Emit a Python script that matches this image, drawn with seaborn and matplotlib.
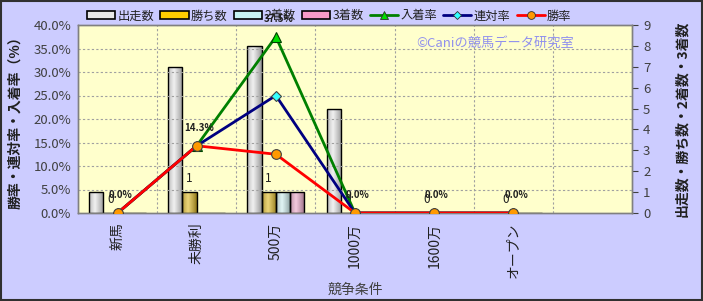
import numpy as np
import pandas as pd
import matplotlib
matplotlib.use("Agg")
import matplotlib.pyplot as plt
import matplotlib.colors as mcolors
from matplotlib.patches import Rectangle, Patch
from matplotlib.lines import Line2D
import seaborn as sns

# ---------------- data ----------------
categories = ['新馬', '未勝利', '500万', '1000万', '1600万', 'オープン', '']
data_cats = ['新馬', '未勝利', '500万', '1000万', '1600万', 'オープン']
starts = [1, 7, 8, 5, 0, 0]        # 出走数
wins = [0, 1, 1, 0, 0, 0]          # 勝ち数
seconds = [0, 0, 1, 0, 0, 0]       # 2着数
thirds = [0, 0, 1, 0, 0, 0]        # 3着数
place_rate = [0.0, 14.3, 37.5, 0.0, 0.0, 0.0]   # 入着率
quinella_rate = [0.0, 14.3, 25.0, 0.0, 0.0, 0.0]  # 連対率
win_rate = [0.0, 14.3, 12.5, 0.0, 0.0, 0.0]     # 勝率
count_names = ['出走数', '勝ち数', '2着数', '3着数']
rate_names = ['入着率', '連対率', '勝率']
left_ticks = [0, 5, 10, 15, 20, 25, 30, 35, 40]
right_ticks = [0, 1, 2, 3, 4, 5, 6, 7, 8, 9]

sns.set_theme(style="white")
plt.rcParams['font.family'] = ['Noto Sans CJK JP', 'DejaVu Sans']

bar_colors = ['#e8e8e8', '#ffcc00', '#c8f4f4', '#f79ac8']
line_colors = ['#008000', '#000080', '#ff0000']
marker_faces = ['#00dd00', '#33ffff', '#ff9900']
markers = ['^', 'D', 'o']
msizes = [7, 5, 7]

df_counts = pd.DataFrame({
    '条件': data_cats * 4,
    '種別': sum([[n] * len(data_cats) for n in count_names], []),
    '値': starts + wins + seconds + thirds,
})

fig = plt.figure(figsize=(7.03, 3.01), dpi=100, facecolor='#ccccff')
ax = fig.add_axes([78 / 703, 1 - 213 / 301, (632 - 78) / 703, (213 - 25) / 301])
ax.set_facecolor('#ffffcc')

sns.barplot(data=df_counts, x='条件', y='値', hue='種別', order=categories,
            hue_order=count_names, palette=bar_colors, width=0.72,
            edgecolor='black', linewidth=1.0, legend=False, ax=ax, zorder=3)

# cylinder shading on bars
bars = [p for p in ax.patches if isinstance(p, Rectangle) and p.get_height() > 0]
for p in bars:
    x0, y0, w, h = p.get_x(), p.get_y(), p.get_width(), p.get_height()
    base = np.array(mcolors.to_rgb(p.get_facecolor()))
    t = np.linspace(0, 1, 40)
    light = np.clip(1 - np.abs(t - 0.4) / 0.6, 0, 1) ** 0.8
    dark = base * 0.62
    cols = dark[None, :] * (1 - light[:, None]) + (0.6 * base + 0.4)[None, :] * light[:, None]
    img = cols[None, :, :]
    im = ax.imshow(img, extent=[x0, x0 + w, y0, y0 + h], aspect='auto',
                   zorder=3.1, interpolation='bilinear')
    im.set_clip_path(p)
    p.set_facecolor('none')
    p.set_zorder(3.2)

ax2 = ax.twinx()

for name, vals, c, mf, mk, ms in zip(rate_names, [place_rate, quinella_rate, win_rate],
                                     line_colors, marker_faces, markers, msizes):
    d = pd.DataFrame({'条件': data_cats, '率': vals})
    n_before = len(ax2.lines)
    sns.pointplot(data=d, x='条件', y='率', order=categories, color=c, marker=mk,
                  markersize=ms, linewidth=2, errorbar=None, ax=ax2)
    for ln in ax2.lines[n_before:]:
        ln.set_markerfacecolor(mf)
        ln.set_markeredgecolor('#404040' if mk != '^' else '#004000')
        ln.set_markeredgewidth(0.8)
        ln.set_zorder(4)

# axes configuration (after twinx / pointplot)
ax.set_xlim(-0.5, len(categories) - 0.5)
ax2.set_xlim(-0.5, len(categories) - 0.5)
ax.set_ylim(0, 9)
ax.set_yticks(right_ticks)
ax.set_yticklabels([str(v) for v in right_ticks])
ax.yaxis.set_ticks_position('right')
ax.yaxis.set_label_position('right')
ax.tick_params(axis='y', left=False, labelleft=False, right=True, labelright=True,
               direction='out', length=4, width=0.8, colors='#404040',
               labelsize=9.5, pad=4)

ax2.set_ylim(0, 40)
ax2.set_yticks(left_ticks)
ax2.set_yticklabels([f'{v:.1f}%' for v in left_ticks])
ax2.yaxis.set_ticks_position('left')
ax2.yaxis.set_label_position('left')
ax2.tick_params(axis='y', left=True, labelleft=True, right=False, labelright=False,
                length=0, colors='#404040', labelsize=9.5, pad=5)

# grid
for v in left_ticks[1:-1]:
    ax2.axhline(v, color='#a0a0a0', lw=0.8, ls=(0, (2, 2)), zorder=1)
for i in range(len(categories) - 1):
    ax2.axvline(i + 0.5, color='#a0a0a0', lw=0.8, ls=(0, (2, 2)), zorder=1)

# x ticks
ax.set_xticks(range(len(categories)))
ax.set_xticklabels(categories, rotation=90, fontsize=10, color='#202020')
ax.tick_params(axis='x', bottom=False, length=0, pad=7)
ax.set_xlabel('競争条件', fontsize=10, color='#404040', labelpad=3)
ax2.set_xlabel('')
ax2.tick_params(axis='x', bottom=False, top=False, labelbottom=False)

ax.set_ylabel('出走数・勝ち数・2着数・3着数', fontsize=10, fontweight='bold',
              color='#202020', rotation=90, labelpad=18)
ax2.set_ylabel('勝率・連対率・入着率（%）', fontsize=10, fontweight='bold',
               color='#202020', labelpad=8)

for a in (ax, ax2):
    for s in a.spines.values():
        s.set_color('#808080')
        s.set_linewidth(1)

# data labels for 入着率
for i, v in enumerate(place_rate):
    ax2.annotate(f'{v:.1f}%', (i, v), xytext=(2, 9), textcoords='offset points',
                 ha='center', va='bottom', fontsize=7, fontweight='bold',
                 color='#202020', zorder=6)
# data labels for 勝ち数 bars
for i, v in enumerate(wins):
    ax.annotate(f'{v}', (i - 0.09, v), xytext=(0, 5), textcoords='offset points',
                ha='center', va='bottom', fontsize=8.5, color='#202020', zorder=6)

# watermark
ax2.text(0.753, 0.904, '©Caniの競馬データ研究室', transform=ax2.transAxes,
         fontsize=9.5, color='#9090ee', ha='center', va='center', zorder=2)

# legend
handles = [Patch(facecolor=c, edgecolor='black', linewidth=1.2) for c in bar_colors]
handles += [Line2D([], [], color=c, lw=2, marker=mk, markersize=ms * 0.8,
                   markerfacecolor=mf, markeredgecolor='#303030', markeredgewidth=0.6)
            for c, mf, mk, ms in zip(line_colors, marker_faces, markers, msizes)]
fig.legend(handles, count_names + rate_names, loc='center left',
           bbox_to_anchor=(76 / 703, 1 - 16 / 301), ncol=7, frameon=False,
           fontsize=8.8, handlelength=2.3, handleheight=0.6, handletextpad=0.2,
           columnspacing=0.5, labelcolor='#202020')

# figure border
fig.patches.append(Rectangle((0.001, 0.002), 0.997, 0.995, transform=fig.transFigure,
                             fill=False, edgecolor='#303030', linewidth=1.5))

fig.savefig('out.png', dpi=100, facecolor=fig.get_facecolor())
